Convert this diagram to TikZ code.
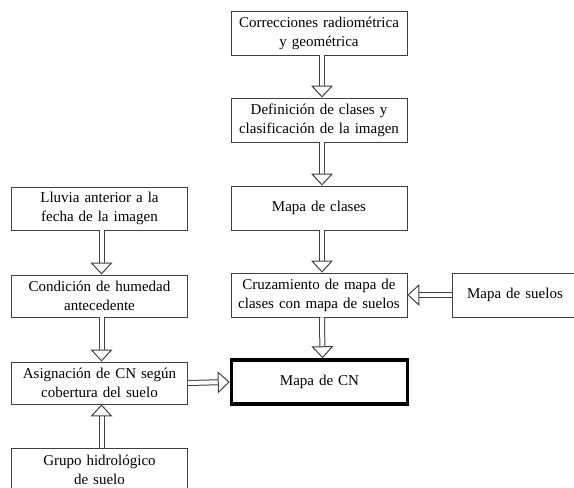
\documentclass[tikz,border=0pt]{standalone}
\usepackage{fontspec}
\setmainfont{Liberation Serif}
\usetikzlibrary{arrows.meta}
\tikzset{
  caja/.style={rectangle, draw=black!75, line width=0.9pt, minimum width=176pt, minimum height=44pt, text width=172pt, align=center, inner sep=0pt, font=\fontsize{15}{19}\selectfont},
  final/.style={caja, draw=black, line width=3.5pt},
  flecha/.style={draw=black!75, line width=1pt, double=white, double distance=4pt, -{Triangle[open, length=12pt, width=22pt]}}
}

\begin{document}
\begin{tikzpicture}[x=1pt, y=-1pt]
    \useasboundingbox (0,0) rectangle (574,488);
    % Columna derecha
    \node [caja] (corr) at (319,33) {Correcciones radiométrica\\y geométrica};
    \node [caja] (defi) at (319,120) {Definición de clases y\\clasificación de la imagen};
    \node [caja] (clases) at (319,208) {Mapa de clases};
    \node [caja] (cruz) at (319,295) {Cruzamiento de mapa de\\clases con mapa de suelos};
    \node [final] (mapacn) at (319.5,382) {Mapa de CN};
    \node [caja, minimum width=126pt, text width=122pt] (suelos) at (515,295) {Mapa de suelos};

    % Columna izquierda
    \node [caja, minimum height=43pt] (lluvia) at (99.5,208.5) {Lluvia anterior a la\\fecha de la imagen};
    \node [caja, minimum height=42pt] (humedad) at (99.5,296) {Condición de humedad\\antecedente};
    \node [caja, minimum height=42pt] (asig) at (99.5,383) {Asignación de CN según\\cobertura del suelo};
    \node [caja] (grupo) at (99.5,470) {Grupo hidrológico\\de suelo};

    % Flechas
    \draw [flecha] ([xshift=3pt]corr.south) -- ([xshift=3pt]defi.north);
    \draw [flecha] ([xshift=3pt]defi.south) -- ([xshift=3pt]clases.north);
    \draw [flecha] ([xshift=3pt]clases.south) -- ([xshift=3pt]cruz.north);
    \draw [flecha] ([xshift=3pt]cruz.south) -- ([xshift=3pt]mapacn.north);
    \draw [flecha] (suelos.west) -- (cruz.east);
    \draw [flecha] ([xshift=2pt]lluvia.south) -- ([xshift=2pt]humedad.north);
    \draw [flecha] ([xshift=2pt]humedad.south) -- ([xshift=2pt]asig.north);
    \draw [flecha] ([xshift=2pt]grupo.north) -- ([xshift=2pt]asig.south);
    \draw [flecha] (asig.east) -- (mapacn.west);
\end{tikzpicture}
\end{document}
